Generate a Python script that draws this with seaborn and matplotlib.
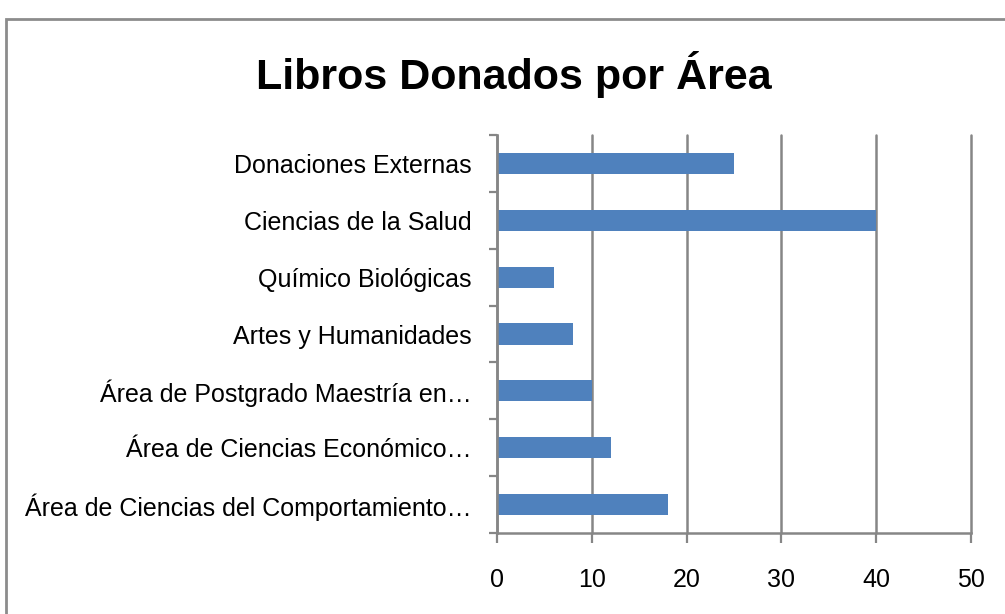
import matplotlib
matplotlib.use('Agg')
import matplotlib.pyplot as plt
from matplotlib.patches import Rectangle
import seaborn as sns
import pandas as pd

# data
areas = [
    'Donaciones Externas',
    'Ciencias de la Salud',
    'Químico Biológicas',
    'Artes y Humanidades',
    'Área de Postgrado Maestría en…',
    'Área de Ciencias Económico…',
    'Área de Ciencias del Comportamiento…',
]
libros = [25, 40, 6, 8, 10, 12, 18]
x_ticks = [0, 10, 20, 30, 40, 50]

df = pd.DataFrame({'area': areas, 'libros': libros})

sns.set_style('white')
plt.rcParams['font.family'] = ['Liberation Sans', 'DejaVu Sans']
plt.rcParams['text.color'] = 'black'
plt.rcParams['xtick.color'] = '#868686'
plt.rcParams['ytick.color'] = '#868686'
plt.rcParams['xtick.labelcolor'] = 'black'
plt.rcParams['ytick.labelcolor'] = 'black'

fig = plt.figure(figsize=(10.05, 6.14), dpi=100)
ax = fig.add_axes([0.4945, 0.1319, 0.4717, 0.6482])

sns.barplot(data=df, y='area', x='libros', orient='h', color='#4F81BD',
            width=0.37, saturation=1, linewidth=0, edgecolor='none', ax=ax)

ax.set_xlim(0, 50)
ax.set_ylim(6.5, -0.5)
ax.set_xticks(x_ticks)
ax.set_xlabel('')
ax.set_ylabel('')
ax.set_axisbelow(True)
ax.grid(axis='x', color='#868686', linewidth=1.8)
ax.grid(axis='y', visible=False)
for line in ax.get_xgridlines():
    line.set_clip_on(False)

for side in ['top', 'right']:
    ax.spines[side].set_visible(False)
for side in ['left', 'bottom']:
    ax.spines[side].set_color('#868686')
    ax.spines[side].set_linewidth(1.8)

# ticks: y ticks at category edges, labels at centers
ax.set_yticks([i - 0.5 for i in range(len(areas) + 1)], minor=True)
ax.tick_params(axis='y', which='major', left=True, length=0, pad=18, labelsize=18)
ax.tick_params(axis='y', which='minor', left=True, length=5.5, width=1.6, direction='out')
ax.tick_params(axis='x', which='major', bottom=True, length=7, width=1.6, direction='out',
               pad=18, labelsize=18)

fig.text(0.511, 1 - 75 / 614, 'Libros Donados por Área', ha='center', va='center',
         fontsize=31, fontweight='bold', color='black',
         family=['Liberation Sans Narrow', 'Liberation Sans', 'DejaVu Sans'])

# outer chart frame (cut off at right and bottom as in the reference)
fig.patches.append(Rectangle((6 / 1005, -0.2), 1.5, 1.2 - 19 / 614, transform=fig.transFigure,
                             fill=False, edgecolor='#8c8c8c', linewidth=2))

fig.savefig('out.png', dpi=100)
